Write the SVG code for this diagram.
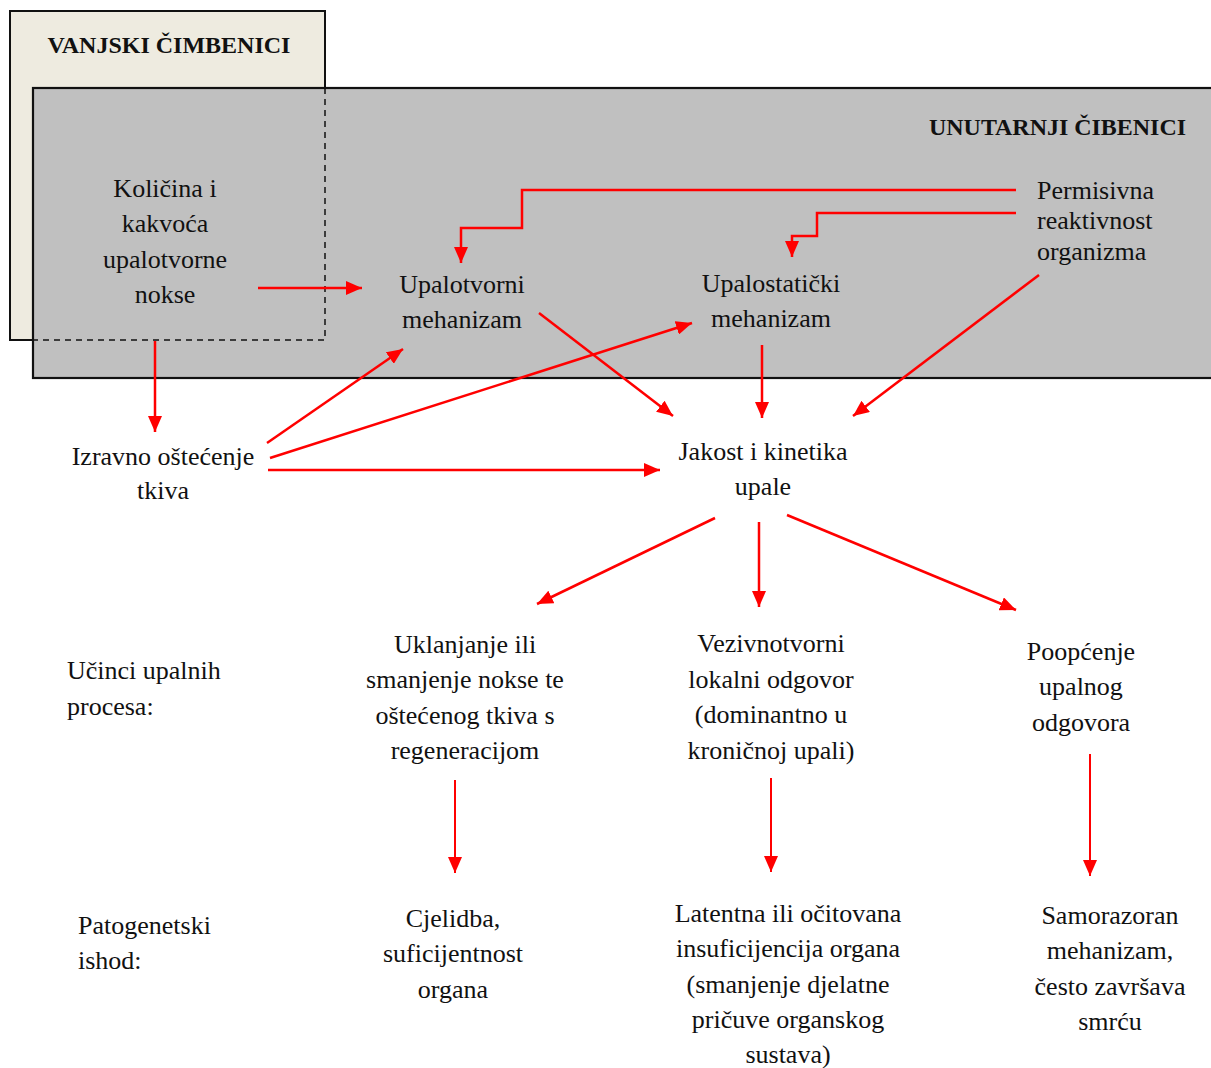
<svg xmlns="http://www.w3.org/2000/svg" width="1211" height="1068" viewBox="0 0 1211 1068">
<style>
text{font-family:"Liberation Serif","Times New Roman",serif;font-size:26px;fill:#111}
.c{text-anchor:middle}
.b{font-weight:bold;font-size:24px}
.e{fill:none;stroke:#ff0000;stroke-width:2.5;marker-end:url(#ah)}
.t{stroke-width:2}
</style>
<defs>
<marker id="ah" markerUnits="userSpaceOnUse" markerWidth="18" markerHeight="14" refX="16" refY="7" orient="auto">
<path d="M0,0 L16,7 L0,14 Z" fill="#ff0000"/>
</marker>
</defs>
<rect width="1211" height="1068" fill="#fff"/>
<g id="vanjski">
<rect x="10" y="11" width="315" height="329" fill="#eeebe0" stroke="#111" stroke-width="2"/>
<text class="b c" x="169" y="53">VANJSKI ČIMBENICI</text>
</g>
<g id="unutarnji">
<rect x="33" y="88" width="1190" height="290" fill="#c0c0c0" stroke="#111" stroke-width="2.2"/>
<path d="M325,88 V340 H33" fill="none" stroke="#111" stroke-width="1.5" stroke-dasharray="6,5"/>
<text class="b" x="929" y="135" textLength="257" lengthAdjust="spacingAndGlyphs">UNUTARNJI ČIBENICI</text>
</g>
<g id="kolicina">
<text class="c" x="165" y="197">Količina i</text>
<text class="c" x="165" y="232">kakvoća</text>
<text class="c" x="165" y="268">upalotvorne</text>
<text class="c" x="165" y="303">nokse</text>
</g>
<g id="upalotvorni">
<text class="c" x="462" y="293">Upalotvorni</text>
<text class="c" x="462" y="328">mehanizam</text>
</g>
<g id="upalostaticki">
<text class="c" x="771" y="292">Upalostatički</text>
<text class="c" x="771" y="327">mehanizam</text>
</g>
<g id="permisivna">
<text x="1037" y="199">Permisivna</text>
<text x="1037" y="229">reaktivnost</text>
<text x="1037" y="260">organizma</text>
</g>
<g id="izravno">
<text class="c" x="163" y="465">Izravno oštećenje</text>
<text class="c" x="163" y="499">tkiva</text>
</g>
<g id="jakost">
<text class="c" x="763" y="460">Jakost i kinetika</text>
<text class="c" x="763" y="495">upale</text>
</g>
<g id="ucinci">
<text x="67" y="679">Učinci upalnih</text>
<text x="67" y="715">procesa:</text>
</g>
<g id="uklanjanje">
<text class="c" x="465" y="653">Uklanjanje ili</text>
<text class="c" x="465" y="688">smanjenje nokse te</text>
<text class="c" x="465" y="724">oštećenog tkiva s</text>
<text class="c" x="465" y="759">regeneracijom</text>
</g>
<g id="vezivnotvorni">
<text class="c" x="771" y="652">Vezivnotvorni</text>
<text class="c" x="771" y="688">lokalni odgovor</text>
<text class="c" x="771" y="723">(dominantno u</text>
<text class="c" x="771" y="759">kroničnoj upali)</text>
</g>
<g id="poopcenje">
<text class="c" x="1081" y="660">Poopćenje</text>
<text class="c" x="1081" y="695">upalnog</text>
<text class="c" x="1081" y="731">odgovora</text>
</g>
<g id="patogenetski">
<text x="78" y="934">Patogenetski</text>
<text x="78" y="969">ishod:</text>
</g>
<g id="cjelidba">
<text class="c" x="453" y="927">Cjelidba,</text>
<text class="c" x="453" y="962">suficijentnost</text>
<text class="c" x="453" y="998">organa</text>
</g>
<g id="latentna">
<text class="c" x="788" y="922">Latentna ili očitovana</text>
<text class="c" x="788" y="957">insuficijencija organa</text>
<text class="c" x="788" y="993">(smanjenje djelatne</text>
<text class="c" x="788" y="1028">pričuve organskog</text>
<text class="c" x="788" y="1063">sustava)</text>
</g>
<g id="samorazoran">
<text class="c" x="1110" y="924">Samorazoran</text>
<text class="c" x="1110" y="959">mehanizam,</text>
<text class="c" x="1110" y="995">često završava</text>
<text class="c" x="1110" y="1030">smrću</text>
</g>
<g id="connectors">
<path class="e" d="M258,288 H362"/>
<path class="e" d="M155,341 V432"/>
<path class="e" d="M267,443 L403,349"/>
<path class="e" d="M270,458 L692,323"/>
<path class="e" d="M268,470 H660"/>
<path class="e" d="M539,313 L673,416"/>
<path class="e" d="M762,345 V418"/>
<path class="e" d="M1039,275 L853,416"/>
<path class="e" d="M1016,190 H522 V228 H461 V263"/>
<path class="e" d="M1016,213 H817 V236 H792 V257"/>
<path class="e" d="M715,518 L537,604"/>
<path class="e" d="M759,522 V607"/>
<path class="e" d="M787,515 L1016,610"/>
<path class="e t" d="M455,780 V873"/>
<path class="e t" d="M771,778 V872"/>
<path class="e t" d="M1090,754 V876"/>
</g>
</svg>
